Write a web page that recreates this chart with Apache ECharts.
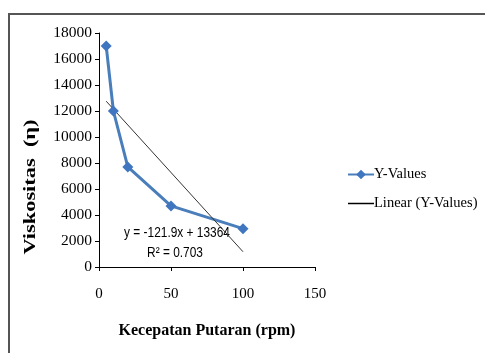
<!DOCTYPE html>
<html><head><meta charset="utf-8">
<script src="https://cdn.jsdelivr.net/npm/echarts@6/dist/echarts.min.js"></script>
<style>html,body{margin:0;padding:0;background:#fff}#c{width:485px;height:353px}</style>
</head><body><div id="c"></div>
<script>
var speedX = [5, 10, 20, 50, 100];
var viscY = [17000, 12000, 7700, 4700, 2950];
var trendX = [5, 100];
var trendY = [12755, 1174];
var xTicks = [0, 50, 100, 150];
var yTicks = [0, 2000, 4000, 6000, 8000, 10000, 12000, 14000, 16000, 18000];
var seriesName = 'Y-Values';
var trendName = 'Linear (Y-Values)';
var eqText = 'y = -121.9x + 13364';
var r2Text = 'R\u00B2 = 0.703';
var xTitle = 'Kecepatan Putaran (rpm)';
var yTitle = 'Viskositas  (\u03B7)';

var serif = '"Liberation Serif", "DejaVu Serif", serif';
var chart = echarts.init(document.getElementById('c'));
chart.setOption({
  animation: false,
  grid: {left: 99, right: 170, top: 33, bottom: 86},
  xAxis: {
    type: 'value', min: xTicks[0], max: xTicks[xTicks.length-1], interval: 50,
    axisLine: {show: true, lineStyle: {color: '#000', width: 1}},
    axisTick: {show: true, length: 4, lineStyle: {color: '#000'}},
    splitLine: {show: false},
    axisLabel: {margin: 20, color: '#000', fontFamily: serif, fontSize: 15},
    name: xTitle, nameLocation: 'middle', nameGap: 56,
    nameTextStyle: {color: '#000', fontFamily: serif, fontSize: 16, fontWeight: 'bold'}
  },
  yAxis: {
    type: 'value', min: yTicks[0], max: yTicks[yTicks.length-1], interval: 2000,
    axisLine: {show: true, lineStyle: {color: '#000', width: 1}},
    axisTick: {show: true, length: 4, lineStyle: {color: '#000'}},
    splitLine: {show: false},
    axisLabel: {margin: 7, color: '#000', fontFamily: serif, fontSize: 15.5,
      formatter: function(v){ return String(v); }}
  },
  legend: {
    orient: 'vertical', left: 342, top: 162, itemGap: 14, itemWidth: 26, itemHeight: 12,
    textStyle: {color: '#000', fontFamily: serif, fontSize: 14.5, padding: [0,0,0,-5]},
    data: [{name: seriesName}, {name: trendName, icon: 'path://M0,0 L26,0 L26,1.5 L0,1.5 Z'}]
  },
  series: [
    {
      name: seriesName, type: 'line',
      data: speedX.map(function(x, i){ return [x, viscY[i]]; }),
      symbol: 'diamond', symbolSize: 11,
      lineStyle: {color: '#4A7EBB', width: 3},
      itemStyle: {color: '#3F76BF'}
    },
    {
      name: trendName, type: 'line',
      data: trendX.map(function(x, i){ return [x, trendY[i]]; }),
      symbol: 'none',
      lineStyle: {color: '#333', width: 1},
      itemStyle: {color: '#000'}
    }
  ],
  graphic: [
    {type: 'polyline', shape: {points: [[485, 14], [9, 14], [9, 353]]}, style: {stroke: '#555', lineWidth: 2, fill: null}},
    {type: 'text', x: 31, y: 187, rotation: Math.PI / 2, scaleX: 1.4,
      style: {text: yTitle, fill: '#000', font: 'bold 16px "Liberation Serif", serif', textAlign: 'center', textVerticalAlign: 'middle'}},
    {type: 'text', x: 177, y: 233, scaleX: 0.85,
      style: {text: eqText, fill: '#000', font: '14px "Liberation Sans", sans-serif', textAlign: 'center', textVerticalAlign: 'middle'}},
    {type: 'text', x: 175, y: 253, scaleX: 0.85,
      style: {text: r2Text, fill: '#000', font: '14px "Liberation Sans", sans-serif', textAlign: 'center', textVerticalAlign: 'middle'}}
  ]
});
</script></body></html>
